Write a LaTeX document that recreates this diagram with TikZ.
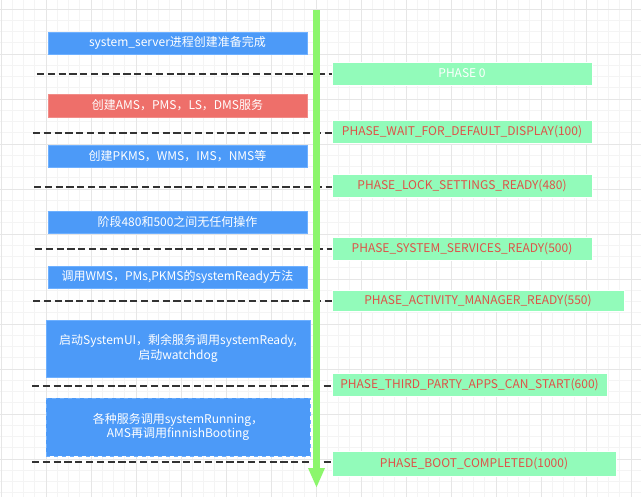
\documentclass[tikz,border=0pt]{standalone}
\usepackage{fontspec}
\setmainfont{Noto Sans CJK SC}
\usetikzlibrary{positioning,arrows.meta}
\definecolor{stepblue}{RGB}{76,154,248}
\definecolor{stepedge}{RGB}{110,176,255}
\definecolor{stepred}{RGB}{238,111,106}
\definecolor{phasegreen}{RGB}{146,251,186}
\definecolor{phasetext}{RGB}{222,82,72}
\definecolor{timeline}{RGB}{140,246,108}
\definecolor{gridminor}{RGB}{244,244,244}
\definecolor{gridmajor}{RGB}{230,230,230}
\tikzset{
    stepbox/.style={fill=stepblue, draw=stepedge, line width=0.6pt, text=white,
        font=\fontsize{9}{11}\selectfont, align=center, inner sep=0pt,
        minimum width=194.25pt, minimum height=16.5pt},
    phasebox/.style={fill=phasegreen, draw=white, line width=0.4pt, text=phasetext,
        font=\fontsize{9}{11}\selectfont, inner sep=0pt, minimum height=17pt},
    phaseline/.style={draw=black!80, line width=1.1pt, dash pattern=on 5.4pt off 2.7pt}
}

\begin{document}
\begin{tikzpicture}[x=0.75pt, y=-0.75pt]
\useasboundingbox (0,0) rectangle (641,497);
\fill[white] (0,0) rectangle (641,497);

% background grid
\foreach \k in {0,...,57}
    \draw[gridminor, line width=0.75pt] (1+11.25*\k,0) -- (1+11.25*\k,497);
\foreach \k in {0,...,44}
    \draw[gridminor, line width=0.75pt] (0,9+11.25*\k) -- (641,9+11.25*\k);
\foreach \k in {0,...,14}
    \draw[gridmajor, line width=0.75pt] (1+45*\k,0) -- (1+45*\k,497);
\foreach \k in {0,...,11}
    \draw[gridmajor, line width=0.75pt] (0,9+45*\k) -- (641,9+45*\k);

% phases on the right
\node[phasebox, text=white, minimum width=195pt] (p0) at (462,73.5) {PHASE 0};
\node[phasebox, minimum width=195pt] (p100) at (462,132) {PHASE\_WAIT\_FOR\_DEFAULT\_DISPLAY(100)};
\node[phasebox, minimum width=195pt] (p480) at (462,185.5) {PHASE\_LOCK\_SETTINGS\_READY(480)};
\node[phasebox, minimum width=195pt] (p500) at (462,248.5) {PHASE\_SYSTEM\_SERVICES\_READY(500)};
\node[phasebox, minimum width=219pt, minimum height=16pt] (p550) at (478,300.5) {PHASE\_ACTIVITY\_MANAGER\_READY(550)};
\node[phasebox, minimum width=206.25pt] (p600) at (469.5,384.5) {PHASE\_THIRD\_PARTY\_APPS\_CAN\_START(600)};
\node[phasebox, minimum width=213pt, minimum height=18.75pt] (p1000) at (474,463.5) {PHASE\_BOOT\_COMPLETED(1000)};

% work done in each stage
\node[stepbox] (init) at (177.5,43) {system\_server进程创建准备完成};
\node[stepbox, fill=stepred, draw=stepred!80!white, minimum height=17.25pt] (ams) at (177.5,105.5) {创建AMS，PMS，LS，DMS服务};
\node[stepbox] (pkms) at (177.5,156) {创建PKMS，WMS，IMS，NMS等};
\node[stepbox] (idle) at (177.5,222) {阶段480和500之间无任何操作};
\node[stepbox] (ready) at (177.5,277) {调用WMS，PMs,PKMS的systemReady方法};
\node[stepbox, minimum width=198pt, minimum height=42.75pt] (sysui) at (178,348.5) {启动SystemUI，剩余服务调用systemReady,\\启动watchdog};
\node[stepbox, draw=stepedge, dashed, minimum width=198pt, minimum height=43.5pt] (running) at (178,427) {各种服务调用systemRunning，\\AMS再调用finnishBooting};

% dashed separators
\coordinate (d0) at (37,74);
\coordinate (d100) at (33,133);
\coordinate (d480) at (34,187);
\coordinate (d500) at (35,249);
\coordinate (d550) at (33,301);
\coordinate (d600) at (32,386);
\coordinate (d1000) at (32,462);
\foreach \p in {0,100,480,500,550,600,1000}
    \draw[phaseline] (d\p) -- (d\p -| p\p.west);

% time line
\coordinate (top) at (316.5,10);
\coordinate (bottom) at (316.5,488);
\draw[timeline, line width=5.25pt, -{Triangle[width=11.5pt, length=15pt]}] (top) -- (bottom);
\end{tikzpicture}
\end{document}
